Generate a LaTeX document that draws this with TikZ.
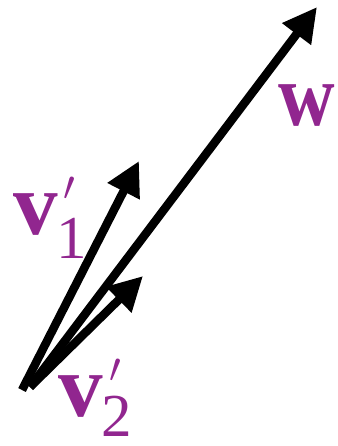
\documentclass[tikz,border=0pt]{standalone}
\usepackage{fontspec}
\setmainfont{Liberation Serif}
\usetikzlibrary{arrows.meta}
\definecolor{vpurple}{RGB}{145,38,143}
\begin{document}
\begin{tikzpicture}[x=1pt,y=-1pt,
  vec/.style={line width=8.5pt,-{Triangle[length=34pt,width=34pt]}},
  big/.style={text=vpurple,inner sep=0pt,anchor=center,font=\fontsize{89}{89}\selectfont\bfseries},
  small/.style={text=vpurple,inner sep=0pt,anchor=center,font=\fontsize{61}{61}\selectfont},
  primemark/.style={text=vpurple,inner sep=0pt,anchor=center}]
\useasboundingbox (0,0) rectangle (337,446);
\coordinate (o1) at (22,390);
\coordinate (o2) at (30,387);
\coordinate (t1) at (139,161);
\coordinate (t2) at (143,276);
\coordinate (tw) at (317,7);
\draw[vec] (o2) -- (tw);
\draw[vec] (o1) -- (t1);
\draw[vec] (o2) -- (t2);
\node[big] (w) at (307,106) {\scalebox{0.88}[1]{w}};
\node[big] (v1) at (36,215) {v};
\node[primemark] (p1) at (69,189) {\scalebox{4.2}{$\prime$}};
\node[small] (s1) at (72,238) {1};
\node[big] (v2) at (81,397) {v};
\node[primemark] (p2) at (115,371) {\scalebox{4.2}{$\prime$}};
\node[small] (s2) at (117,416) {2};
\end{tikzpicture}
\end{document}
